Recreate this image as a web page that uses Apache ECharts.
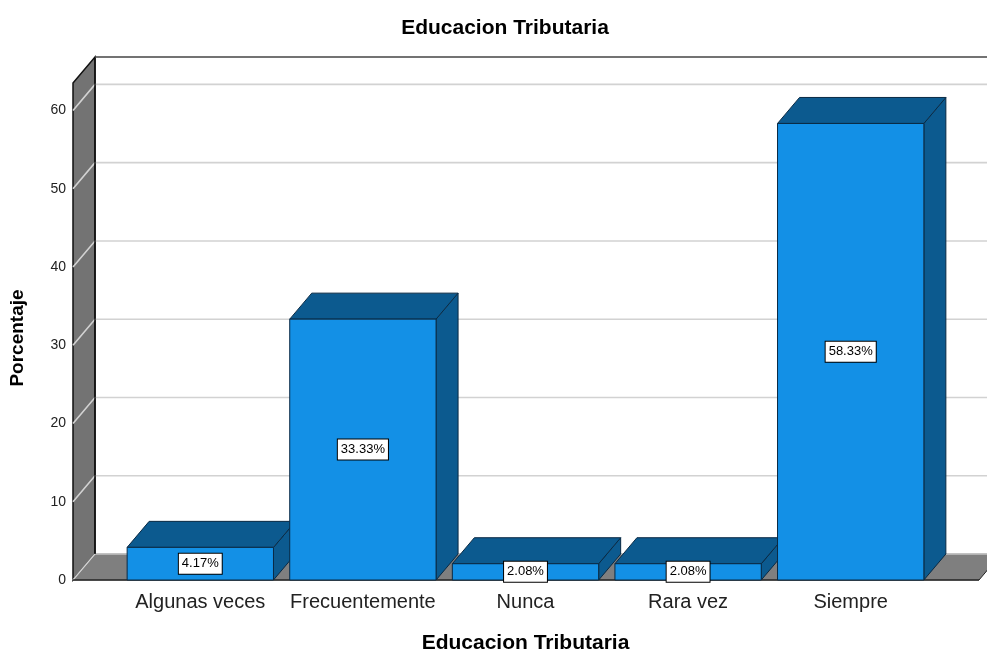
<!DOCTYPE html>
<html>
<head>
<meta charset="utf-8">
<script src="https://cdn.jsdelivr.net/npm/echarts@6/dist/echarts.min.js"></script>
<style>
  html, body { margin: 0; padding: 0; background: #fff; }
  #main { width: 987px; height: 652px; }
</style>
</head>
<body>
<div id="main"></div>
<script>
// datos
const categories = ['Algunas veces', 'Frecuentemente', 'Nunca', 'Rara vez', 'Siempre'];
const percentages = [4.17, 33.33, 2.08, 2.08, 58.33];
const yTicks = [0, 10, 20, 30, 40, 50, 60];

const DX = 22, DY = 26;        // profundidad 3D
const FONT = '"Liberation Sans", Arial, sans-serif';

const myChart = echarts.init(document.getElementById('main'));

// paredes, suelo y lineas de cuadricula
function renderWalls(params, api) {
  const cs = params.coordSys;
  const left = cs.x - 46, right = cs.x + cs.width + 47;
  const yTop = api.coord([0, 63.5])[1];
  const y0 = api.coord([0, 0])[1];
  const children = [];
  // suelo
  children.push({
    type: 'polygon',
    shape: { points: [[left, y0], [left + DX, y0 - DY], [right + DX, y0 - DY], [right, y0]] },
    style: { fill: '#7f7f7f', stroke: '#222', lineWidth: 1 }
  });
  // pared izquierda
  children.push({
    type: 'polygon',
    shape: { points: [[left, yTop], [left + DX, yTop - DY], [left + DX, y0 - DY], [left, y0]] },
    style: { fill: '#737373', stroke: '#111', lineWidth: 1.5 }
  });
  // lineas de cuadricula
  yTicks.forEach(v => {
    const y = api.coord([0, v])[1];
    children.push({
      type: 'polyline',
      shape: { points: [[left, y], [left + DX, y - DY], [right + DX, y - DY]] },
      style: { stroke: '#d2d2d2', lineWidth: 1.6, fill: null }
    });
  });
  // borde interior y superior
  children.push({
    type: 'line',
    shape: { x1: left + DX, y1: yTop - DY, x2: left + DX, y2: y0 - DY },
    style: { stroke: '#111', lineWidth: 1.5 }
  });
  children.push({
    type: 'line',
    shape: { x1: left + DX, y1: yTop - DY, x2: right + DX, y2: yTop - DY },
    style: { stroke: '#444', lineWidth: 1.5 }
  });
  children.push({
    type: 'line',
    shape: { x1: left, y1: y0, x2: right, y2: y0 },
    style: { stroke: '#333', lineWidth: 1.5 }
  });
  return { type: 'group', children: children };
}

function renderBar(params, api) {
  const top = api.coord([api.value(0), api.value(1)]);
  const base = api.coord([api.value(0), 0]);
  const w = api.size([1, 0])[0] * 0.9;
  const x0 = top[0] - w / 2, x1 = top[0] + w / 2;
  const yt = top[1], yb = base[1];
  const edge = { stroke: '#0a2a44', lineWidth: 1 };
  return {
    type: 'group',
    children: [
      {
        type: 'polygon',
        shape: { points: [[x1, yt], [x1 + DX, yt - DY], [x1 + DX, yb - DY], [x1, yb]] },
        style: Object.assign({ fill: '#0c5a8f' }, edge)
      },
      {
        type: 'polygon',
        shape: { points: [[x0, yt], [x0 + DX, yt - DY], [x1 + DX, yt - DY], [x1, yt]] },
        style: Object.assign({ fill: '#0c5a8f' }, edge)
      },
      {
        type: 'rect',
        shape: { x: x0, y: yt, width: w, height: yb - yt },
        style: Object.assign({ fill: '#1390e6' }, edge)
      },
      {
        type: 'text',
        x: top[0], y: (yt + yb) / 2,
        style: {
          text: api.value(1).toFixed(2) + '%',
          align: 'center', verticalAlign: 'middle',
          font: '13px ' + FONT, fill: '#000',
          backgroundColor: '#fff', borderColor: '#000', borderWidth: 1,
          padding: [4, 3, 3, 3]
        }
      }
    ]
  };
}

const option = {
  animation: false,
  title: {
    text: 'Educacion Tributaria',
    left: 500, top: 13, textAlign: 'center',
    textStyle: { fontFamily: FONT, fontSize: 21, fontWeight: 'bold', color: '#000' }
  },
  graphic: [{
    type: 'text',
    x: 18, y: 338,
    rotation: Math.PI / 2,
    style: {
      text: 'Porcentaje',
      align: 'center', verticalAlign: 'middle',
      font: 'bold 19px ' + FONT, fill: '#000'
    }
  }],
  grid: { left: 119, right: 55, top: 83, bottom: 72, outerBoundsMode: 'none' },
  xAxis: {
    type: 'category',
    data: categories,
    name: 'Educacion Tributaria',
    nameLocation: 'middle',
    nameGap: 53,
    nameTextStyle: { fontFamily: FONT, fontSize: 21, fontWeight: 'bold', color: '#000' },
    axisLine: { show: false },
    axisTick: { show: false },
    axisLabel: { fontFamily: FONT, fontSize: 20, color: '#222', margin: 12, interval: 0, hideOverlap: false }
  },
  yAxis: {
    type: 'value',
    min: 0, max: 63.5, interval: 10,
    axisLine: { show: false },
    axisTick: { show: false },
    splitLine: { show: false },
    axisLabel: {
      fontFamily: FONT, fontSize: 14, color: '#222', margin: 53,
      formatter: v => (v % 10 === 0 ? String(v) : '')
    }
  },
  series: [
    {
      type: 'custom',
      z: 1,
      silent: true,
      renderItem: renderWalls,
      data: [[0, 0]]
    },
    {
      type: 'custom',
      z: 2,
      renderItem: renderBar,
      data: percentages.map((v, i) => [i, v])
    }
  ]
};

myChart.setOption(option);
</script>
</body>
</html>
